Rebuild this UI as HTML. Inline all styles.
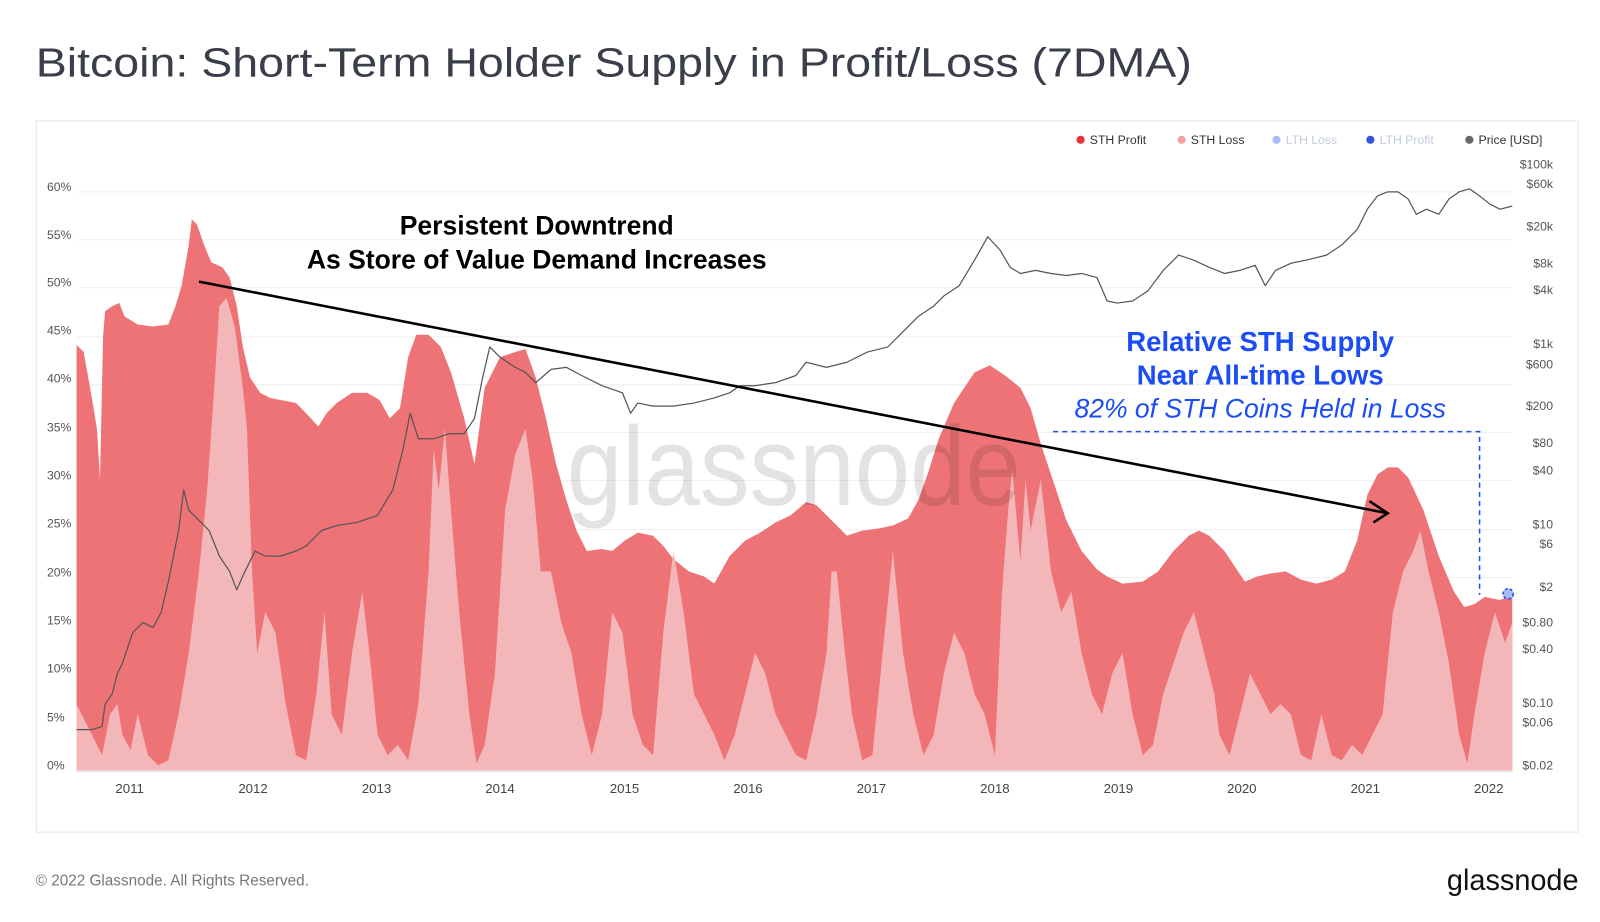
<!DOCTYPE html>
<html><head><meta charset="utf-8"><style>
body{margin:0;background:#fff;}
svg{display:block;font-family:"Liberation Sans",sans-serif;}
</style></head><body>
<svg width="1600" height="922" viewBox="0 0 1600 922" xmlns="http://www.w3.org/2000/svg">
<rect width="1600" height="922" fill="#fff"/>
<g transform="scale(1.0204)">
<text x="35" y="75" font-size="40" fill="#3a3e4a" textLength="1133" lengthAdjust="spacingAndGlyphs">Bitcoin: Short-Term Holder Supply in Profit/Loss (7DMA)</text>
<rect x="35.5" y="118.5" width="1511" height="697" fill="#fff" stroke="#e4e4e4"/>
<g stroke="#efefef" stroke-width="1">
<line x1="75" x2="1482" y1="188" y2="188"/><line x1="75" x2="1482" y1="235" y2="235"/><line x1="75" x2="1482" y1="282" y2="282"/><line x1="75" x2="1482" y1="330" y2="330"/><line x1="75" x2="1482" y1="377" y2="377"/><line x1="75" x2="1482" y1="424" y2="424"/><line x1="75" x2="1482" y1="471" y2="471"/><line x1="75" x2="1482" y1="519" y2="519"/><line x1="75" x2="1482" y1="566" y2="566"/><line x1="75" x2="1482" y1="613" y2="613"/><line x1="75" x2="1482" y1="660" y2="660"/><line x1="75" x2="1482" y1="708" y2="708"/>
</g>
<g font-size="12" fill="#555">
<text x="46" y="187">60%</text><text x="46" y="234">55%</text><text x="46" y="281">50%</text><text x="46" y="328">45%</text><text x="46" y="375">40%</text><text x="46" y="423">35%</text><text x="46" y="470">30%</text><text x="46" y="517">25%</text><text x="46" y="565">20%</text><text x="46" y="612">15%</text><text x="46" y="659">10%</text><text x="46" y="707">5%</text><text x="46" y="754">0%</text>
</g>
<g font-size="12" fill="#555" text-anchor="end">
<text x="1522" y="165">$100k</text><text x="1522" y="184">$60k</text><text x="1522" y="226">$20k</text><text x="1522" y="262">$8k</text><text x="1522" y="288">$4k</text><text x="1522" y="341">$1k</text><text x="1522" y="361">$600</text><text x="1522" y="402">$200</text><text x="1522" y="438">$80</text><text x="1522" y="465">$40</text><text x="1522" y="518">$10</text><text x="1522" y="537">$6</text><text x="1522" y="579">$2</text><text x="1522" y="614">$0.80</text><text x="1522" y="640">$0.40</text><text x="1522" y="693">$0.10</text><text x="1522" y="712">$0.06</text><text x="1522" y="754">$0.02</text>
</g>
<g font-size="13" fill="#444" text-anchor="middle">
<text x="127" y="777">2011</text><text x="248" y="777">2012</text><text x="369" y="777">2013</text><text x="490" y="777">2014</text><text x="612" y="777">2015</text><text x="733" y="777">2016</text><text x="854" y="777">2017</text><text x="975" y="777">2018</text><text x="1096" y="777">2019</text><text x="1217" y="777">2020</text><text x="1338" y="777">2021</text><text x="1459" y="777">2022</text>
</g>
<g font-size="12">
<circle cx="1059" cy="137" r="4" fill="#e8333b"/><text x="1068" y="141" fill="#333">STH Profit</text>
<circle cx="1158" cy="137" r="4" fill="#f4a0a4"/><text x="1167" y="141" fill="#333">STH Loss</text>
<circle cx="1251" cy="137" r="4" fill="#a9bdf5"/><text x="1260" y="141" fill="#c4ccdc">LTH Loss</text>
<circle cx="1343" cy="137" r="4" fill="#3454e0"/><text x="1352" y="141" fill="#c4ccdc">LTH Profit</text>
<circle cx="1440" cy="137" r="4" fill="#666"/><text x="1449" y="141" fill="#333">Price [USD]</text>
</g>
<polygon fill="#ee7377" points="75,755 75,338 82,345 90,390 95,420 98,470 101,330 103,305 110,300 117,297 122,310 135,318 150,320 165,318 172,300 178,280 185,240 188,215 193,220 200,240 207,257 218,262 225,272 232,300 238,340 245,370 255,385 265,390 290,395 300,405 312,418 320,405 330,395 345,385 360,385 372,392 382,410 392,400 400,350 408,328 420,328 432,340 442,365 455,410 465,455 475,380 490,350 505,345 515,342 525,370 535,410 545,455 555,490 565,520 575,540 590,538 600,540 612,530 625,522 640,525 650,535 660,548 675,560 690,565 700,572 715,545 730,530 745,522 760,512 775,505 790,492 800,495 815,510 830,525 845,520 860,518 875,515 890,508 900,490 910,462 920,430 935,395 955,365 970,358 985,368 1000,380 1010,400 1020,435 1030,465 1045,510 1060,540 1075,558 1085,565 1100,572 1120,570 1135,560 1150,540 1165,525 1175,520 1185,525 1200,540 1210,555 1220,570 1232,565 1245,562 1260,560 1275,568 1290,572 1305,568 1318,560 1330,530 1340,485 1350,465 1360,458 1370,458 1380,468 1395,500 1410,545 1425,580 1435,595 1445,592 1455,585 1470,588 1482,583 1482,755"/>
<polygon fill="#f4b7b9" points="75,755 75,690 90,720 100,740 108,700 115,690 120,720 128,735 135,700 145,740 155,750 165,745 175,700 185,640 195,560 203,480 210,380 215,300 222,292 230,320 238,380 242,420 247,560 252,640 260,600 270,620 280,690 290,740 300,745 310,680 318,600 325,700 335,720 345,640 355,580 362,640 370,720 380,740 390,730 400,745 410,690 420,560 425,440 430,480 436,420 442,500 450,600 460,700 467,748 475,730 485,660 495,500 505,445 515,420 522,470 530,560 540,560 550,610 560,640 570,700 580,740 590,700 600,600 610,620 620,700 630,730 640,740 650,620 660,540 670,600 680,680 690,700 700,720 710,745 720,720 730,680 740,640 750,660 760,700 770,720 780,740 790,745 800,700 810,640 815,560 820,560 828,640 835,700 845,745 855,740 865,640 875,540 885,640 895,700 905,740 915,720 925,660 935,620 945,640 955,680 965,700 975,740 982,580 988,500 992,460 1000,550 1005,470 1010,520 1020,470 1030,560 1040,600 1050,580 1060,640 1070,680 1080,700 1090,660 1100,640 1110,700 1120,740 1130,730 1140,680 1150,650 1160,620 1170,600 1180,640 1190,680 1195,720 1205,740 1215,700 1225,660 1235,680 1245,700 1255,690 1265,700 1275,740 1285,745 1295,700 1305,740 1315,745 1325,730 1335,740 1345,720 1355,700 1365,600 1375,560 1385,540 1392,520 1400,560 1410,600 1420,650 1430,720 1438,748 1445,700 1455,640 1465,600 1475,630 1482,610 1482,755"/>
<text x="778" y="495" font-size="110" fill="#000" fill-opacity="0.11" text-anchor="middle" textLength="445" lengthAdjust="spacingAndGlyphs">glassnode</text>
<polyline fill="none" stroke="#555" stroke-width="1.2" stroke-linejoin="round" points="75,715 90,715 100,712 103,690 110,680 115,660 120,650 130,620 140,610 150,615 158,600 165,570 175,520 180,480 185,500 195,510 205,520 215,545 225,560 232,578 240,560 250,540 260,545 275,545 290,540 300,535 315,520 330,515 350,512 370,505 385,480 395,440 402,405 410,430 425,430 440,425 455,425 465,410 473,370 480,340 490,350 505,360 515,365 525,375 540,362 555,360 570,368 590,378 610,385 618,405 625,395 640,398 660,398 680,395 700,390 715,385 725,378 740,378 760,375 780,368 790,355 810,360 830,355 850,345 870,340 885,325 900,310 915,300 925,290 940,280 955,255 968,232 980,245 990,262 1000,268 1015,265 1030,268 1045,270 1060,268 1075,272 1085,295 1095,297 1110,295 1125,285 1140,265 1155,250 1170,255 1185,262 1200,268 1215,265 1230,260 1240,280 1250,265 1265,258 1280,255 1300,250 1315,240 1330,225 1340,205 1350,192 1360,188 1370,188 1380,195 1388,210 1398,205 1410,210 1420,195 1430,188 1440,185 1450,192 1460,200 1470,205 1482,202"/>
<line x1="75" x2="1482" y1="756" y2="756" stroke="#ddd"/>
<text x="526" y="230" font-size="26" font-weight="bold" text-anchor="middle" fill="#000">Persistent Downtrend</text>
<text x="526" y="263" font-size="26" font-weight="bold" text-anchor="middle" fill="#000">As Store of Value Demand Increases</text>
<line x1="195" y1="276" x2="1360" y2="503" stroke="#000" stroke-width="2.5"/>
<polyline points="1342,491 1360,503 1346,512" fill="none" stroke="#000" stroke-width="2.5"/>
<text x="1235" y="344" font-size="27" font-weight="bold" text-anchor="middle" fill="#1a4df5">Relative STH Supply</text>
<text x="1235" y="377" font-size="27" font-weight="bold" text-anchor="middle" fill="#1a4df5">Near All-time Lows</text>
<text x="1235" y="409" font-size="26" font-style="italic" text-anchor="middle" fill="#1a4df5">82% of STH Coins Held in Loss</text>
<polyline points="1032,423 1450,423 1450,583" fill="none" stroke="#1a4df5" stroke-width="1.5" stroke-dasharray="5,4"/>
<circle cx="1478" cy="582" r="5" fill="#a9bdf5" stroke="#1a4df5" stroke-width="1.5" stroke-dasharray="3,2"/>
<text x="35" y="868" font-size="15" fill="#777">© 2022 Glassnode. All Rights Reserved.</text>
<text x="1547" y="872" font-size="29" fill="#111" text-anchor="end" textLength="129" lengthAdjust="spacingAndGlyphs">glassnode</text>
</g>
</svg>
</body></html>
